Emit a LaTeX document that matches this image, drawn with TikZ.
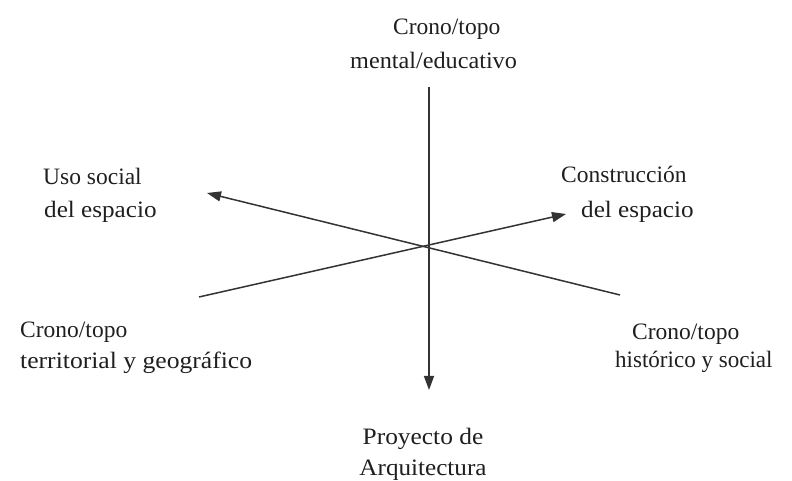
\documentclass[tikz,border=0pt]{standalone}
\usepackage{fontspec}
\setmainfont{Liberation Serif}
\usetikzlibrary{arrows.meta}
\begin{document}
\begin{tikzpicture}[x=1pt,y=1pt,
  lbl/.style={inner sep=0pt,anchor=base west,text=black!88,font=\fontsize{23.5}{28}\selectfont},
  wide/.style={transform shape,xscale=#1},
  axis/.style={line width=1.5pt,draw=black!80},
  tip/.style={-{Triangle[length=14pt,width=10pt]}}]
\useasboundingbox (0,0) rectangle (792,481);
\coordinate (top) at (429,394);
\coordinate (bot) at (429,91);
\coordinate (ul) at (207,288);
\coordinate (lr) at (620,186);
\coordinate (ll) at (199,184);
\coordinate (ur) at (566,267);
\draw[axis,tip] (top) -- (bot);
\draw[axis,tip] (lr) -- (ul);
\draw[axis,tip] (ll) -- (ur);
\node[lbl] (t1) at (393,446) {Crono/topo};
\node[lbl,wide=1.03] (t2) at (350,412) {mental/educativo};
\node[lbl] (l1) at (43,296) {Uso social};
\node[lbl,wide=1.07] (l2) at (44,263) {del espacio};
\node[lbl] (r1) at (561,298) {Construcción};
\node[lbl,wide=1.07] (r2) at (581,263) {del espacio};
\node[lbl] (a1) at (20,143) {Crono/topo};
\node[lbl,wide=1.09] (a2) at (20,112) {territorial y geográfico};
\node[lbl] (b1) at (632,141) {Crono/topo};
\node[lbl,wide=0.98] (b2) at (615,113) {histórico y social};
\node[lbl,anchor=base,wide=1.08] (p1) at (423,36) {Proyecto de};
\node[lbl,anchor=base,wide=1.07] (p2) at (423,5) {Arquitectura};
\end{tikzpicture}
\end{document}
